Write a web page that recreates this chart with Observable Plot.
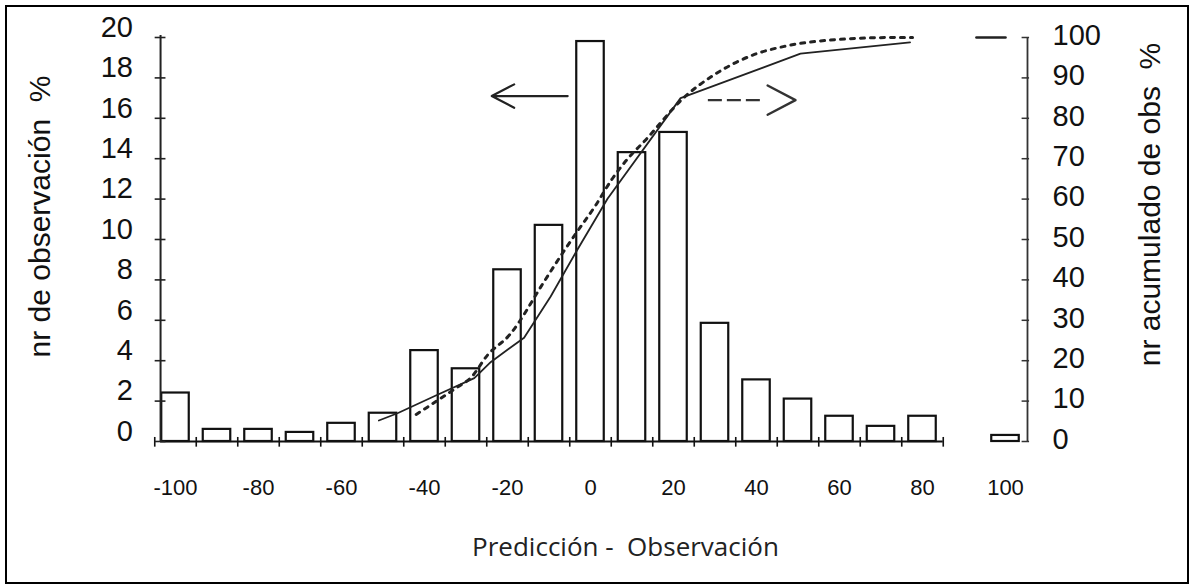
<!DOCTYPE html>
<html>
<head>
<meta charset="utf-8">
<script src="https://cdn.jsdelivr.net/npm/d3@7"></script>
<script src="https://cdn.jsdelivr.net/npm/@observablehq/plot@0.6"></script>
<style>
  html, body { margin: 0; padding: 0; background: #fff; }
  #wrap { position: relative; width: 1191px; height: 584px; overflow: hidden; }
  #border { position: absolute; left: 5px; top: 5px; width: 1180px; height: 575px; border: 2px solid #000; pointer-events: none; }
  svg text { white-space: pre; }
</style>
</head>
<body>
<div id="wrap"><div id="chart"></div><div id="border"></div></div>
<script>
// Histogram bins (centre of class, % of observations)
const binCenters = [-100, -90, -80, -70, -60, -50, -40, -30, -20, -10, 0, 10, 20, 30, 40, 50, 60, 70, 80, 100];
const binPercent = [2.4, 0.6, 0.6, 0.45, 0.9, 1.4, 4.5, 3.6, 8.5, 10.7, 19.8, 14.3, 15.3, 5.85, 3.05, 2.1, 1.25, 0.75, 1.25, 0.3];

// Cumulative curve, solid line (x, cumulative %)
const solidX = [-51, -46.5, -37, -28, -24, -16, -9.6, -3.1, 4.1, 21.7, 50.6, 77];
const solidCum = [5.2, 7.0, 11.5, 15.7, 19.7, 25.7, 35.9, 47.6, 60.1, 85.0, 96.0, 98.8];

// Cumulative curve, dotted line (x, cumulative %)
const dottedX = [-42, -39.3, -32, -28.9, -24.8, -19.5, -11.1, -7.2, -3.1, 1.2, 5.3, 10.1, 12.5, 22.9, 29.4, 39.5, 46.7, 54, 73.3, 77.6];
const dottedCum = [6.7, 8.5, 13.5, 15.7, 21.4, 26.4, 39.7, 45.9, 52.1, 58.4, 65.1, 71.3, 73.8, 85.5, 90.5, 95.8, 97.8, 99.0, 100, 100];

// Short piece of the curve at 100 % near x = 100
const tailX = [93, 100];
const tailCum = [100, 100];

// Tick labels
const xTicks = [-100, -80, -60, -40, -20, 0, 20, 40, 60, 80, 100];
const leftTicks = [0, 2, 4, 6, 8, 10, 12, 14, 16, 18, 20];
const rightTicks = [0, 10, 20, 30, 40, 50, 60, 70, 80, 90, 100];

// Texts
const xTitle = "Predicción -  Observación";
const leftTitle = "nr de observación  %";
const rightTitle = "nr acumulado de obs  %";

// Arrow annotations (x in data units, y in left-axis units)
const leftArrow = [{x1: -5.5, y1: 17.1, x2: -23.8, y2: 17.1}];
const rightArrowShaft = [{x1: 28.4, x2: 41, y: 16.9}];
const rightArrowTip = [{x: 49.4, y: 16.9}];

// Axis line positions (data units)
const leftAxisX = -103.6;
const rightAxisX = 105.3;
const baselineEnd = 85;

const bars = binCenters.map((x, i) => ({x, v: binPercent[i]}));
const solid = solidX.map((x, i) => ({x, c: solidCum[i]}));
const dotted = dottedX.map((x, i) => ({x, c: dottedCum[i]}));
const tail = tailX.map((x, i) => ({x, c: tailCum[i]}));
const edges = binCenters.filter(x => x <= 80).map(x => x + 5).concat([-105]);

// open chevron head, tip at origin, pointing "up" before rotation
const chevron = {
  draw(context, l) {
    const h = l * 0.9, w = l * 0.47;
    context.moveTo(-w, h);
    context.lineTo(0, 0);
    context.lineTo(w, h);
  }
};

const font = "'Liberation Sans', Arial, sans-serif";

const chart = Plot.plot({
  width: 1191,
  height: 584,
  marginLeft: 133.5,
  marginRight: 144.5,
  marginTop: 37,
  marginBottom: 143,
  style: {fontFamily: font, background: "white", color: "#111"},
  x: {domain: [-110, 110]},
  y: {domain: [0, 20]},
  marks: [
    // baseline & bin edge ticks
    Plot.ruleY([0], {x1: leftAxisX, x2: baselineEnd, stroke: "#111", strokeWidth: 2}),
    Plot.ruleX(edges, {x: d => d, y1: -0.28, y2: 0.2, stroke: "#111", strokeWidth: 1.6}),
    // histogram bars
    Plot.rectY(bars, {x1: d => d.x - 5, x2: d => d.x + 5, y: "v", insetLeft: 7, insetRight: 7,
      fill: "white", stroke: "#111", strokeWidth: 2.2}),
    // left axis
    Plot.ruleX([leftAxisX], {y1: 0, y2: 20.1, stroke: "#222", strokeWidth: 2}),
    Plot.ruleY(leftTicks, {y: d => d, x1: leftAxisX - 1.3, x2: leftAxisX + 1.3, stroke: "#222", strokeWidth: 1.6}),
    Plot.axisY({anchor: "left", ticks: leftTicks, tickFormat: d => String(d), tickSize: 0, tickPadding: 1, dy: -10,
      fontSize: 29, label: null, fill: "#111"}),
    // right axis
    Plot.ruleX([rightAxisX], {y1: 0, y2: 20, stroke: "#333", strokeWidth: 1.8}),
    Plot.ruleY(rightTicks, {y: d => d / 5, x1: rightAxisX - 1.3, x2: rightAxisX + 0.5, stroke: "#333", strokeWidth: 1.5}),
    Plot.axisY({anchor: "right", ticks: leftTicks, tickFormat: d => String(d * 5), tickSize: 0, tickPadding: 25,
      dx: -19.5, dy: -2, fontSize: 29, label: null, fill: "#111"}),
    // x axis labels
    Plot.axisX({ticks: xTicks, tickFormat: d => String(d), tickSize: 0, tickPadding: 38, fontSize: 22, label: null, fill: "#111"}),
    // cumulative curves
    Plot.line(solid, {x: "x", y: d => d.c / 5, stroke: "#222", strokeWidth: 1.8}),
    Plot.line(dotted, {x: "x", y: d => d.c / 5, stroke: "#222", strokeWidth: 3, strokeDasharray: "4,6", curve: "monotone-x"}),
    Plot.line(tail, {x: "x", y: d => d.c / 5, stroke: "#222", strokeWidth: 2.6}),
    // arrows
    Plot.arrow(leftArrow, {x1: "x1", y1: "y1", x2: "x2", y2: "y2", headLength: 31, headAngle: 55, stroke: "#222", strokeWidth: 2.2}),
    Plot.ruleY(rightArrowShaft, {y: "y", x1: "x1", x2: "x2", stroke: "#333", strokeWidth: 2.2, strokeDasharray: "14,5"}),
    Plot.vector(rightArrowTip, {x: "x", y: "y", rotate: 90, length: 31, anchor: "start", shape: chevron,
      stroke: "#333", strokeWidth: 2.4, fill: "none"}),
    // titles
    Plot.text([xTitle], {frameAnchor: "bottom", dx: 35, dy: 114, fontSize: 26, fontFamily: "'Open Sans', 'Noto Sans', sans-serif", fill: "#222", textAnchor: "middle"}),
    Plot.text([leftTitle], {frameAnchor: "left", rotate: -90, dx: -93.5, dy: -23, fontSize: 30, fill: "#111", textAnchor: "middle"}),
    Plot.text([rightTitle], {frameAnchor: "right", rotate: -90, dx: 103.5, dy: -35, fontSize: 30, fill: "#111", textAnchor: "middle"})
  ]
});
document.getElementById("chart").appendChild(chart);
</script>
</body>
</html>
